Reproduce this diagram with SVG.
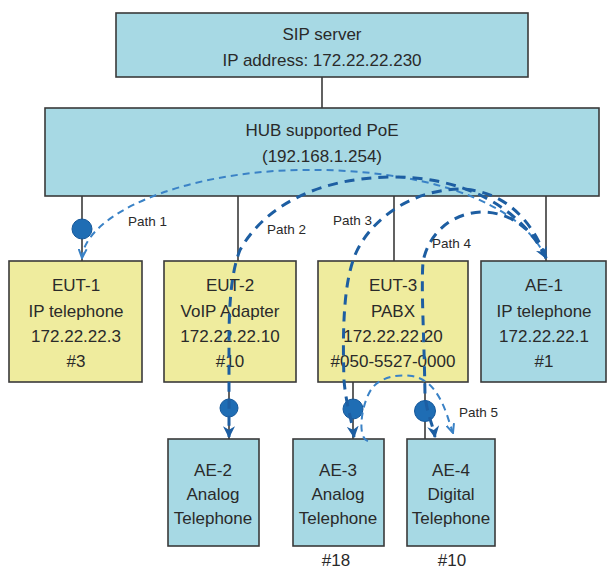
<svg xmlns="http://www.w3.org/2000/svg" width="608" height="572" viewBox="0 0 608 572">
<style>
.box{stroke:#3a3a3a;stroke-width:1.6}
.blue{fill:#a7d9e4}
.yel{fill:#efec9e}
.t{font-family:"Liberation Sans",Arial,sans-serif;font-size:17px;fill:#2a2a2a;text-anchor:middle}
.lab{font-family:"Liberation Sans",Arial,sans-serif;font-size:13.5px;fill:#2a2a2a}
.wire{stroke:#3a3a3a;stroke-width:1.6;fill:none}
.dot{fill:#1f6db4;stroke:#16589a;stroke-width:1}
.pl{fill:none;stroke:#3a82c6;stroke-width:2;stroke-dasharray:7 5}
.pd{fill:none;stroke:#1d5ea2;stroke-width:3;stroke-dasharray:10 7}
</style>
<defs>
<marker id="ad" viewBox="0 0 10 10" refX="9" refY="5" markerWidth="4" markerHeight="4" orient="auto-start-reverse" markerUnits="strokeWidth"><path d="M0,0 L10,5 L0,10 L3,5 Z" fill="#1d5ea2"/></marker>
<marker id="al" viewBox="0 0 10 10" refX="9" refY="5" markerWidth="5" markerHeight="5" orient="auto-start-reverse" markerUnits="strokeWidth"><path d="M0,1 L9,5 L0,9" fill="none" stroke="#3a82c6" stroke-width="2"/></marker>
</defs>

<g id="wires">
<line class="wire" x1="322" y1="77" x2="322" y2="108"/>
<line class="wire" x1="82" y1="196" x2="82" y2="261"/>
<line class="wire" x1="238" y1="196" x2="238" y2="261"/>
<line class="wire" x1="394" y1="196" x2="394" y2="261"/>
<line class="wire" x1="546" y1="196" x2="546" y2="261"/>
<line class="wire" x1="229" y1="382" x2="229" y2="439"/>
<line class="wire" x1="353" y1="382" x2="353" y2="439"/>
<line class="wire" x1="425" y1="382" x2="425" y2="439"/>
</g>

<g id="sip">
<rect class="box blue" x="116" y="13" width="412" height="64"/>
<text class="t" x="322" y="40">SIP server</text>
<text class="t" x="322" y="66">IP address: 172.22.22.230</text>
</g>
<g id="hub">
<rect class="box blue" x="45" y="108" width="554" height="88"/>
<text class="t" x="322" y="136">HUB supported PoE</text>
<text class="t" x="322" y="162">(192.168.1.254)</text>
</g>
<g id="eut1">
<rect class="box yel" x="9" y="261" width="133" height="121"/>
<text class="t" x="76" y="291">EUT-1</text>
<text class="t" x="76" y="317">IP telephone</text>
<text class="t" x="76" y="342">172.22.22.3</text>
<text class="t" x="76" y="367">#3</text>
</g>
<g id="eut2">
<rect class="box yel" x="164" y="261" width="132" height="121"/>
<text class="t" x="230" y="291">EUT-2</text>
<text class="t" x="230" y="317">VoIP Adapter</text>
<text class="t" x="230" y="342">172.22.22.10</text>
<text class="t" x="230" y="367">#10</text>
</g>
<g id="eut3">
<rect class="box yel" x="318" y="261" width="150" height="121"/>
<text class="t" x="393" y="291">EUT-3</text>
<text class="t" x="393" y="317">PABX</text>
<text class="t" x="393" y="342">172.22.22.20</text>
<text class="t" x="393" y="367">#050-5527-0000</text>
</g>
<g id="ae1">
<rect class="box blue" x="481" y="261" width="125" height="121"/>
<text class="t" x="544" y="291">AE-1</text>
<text class="t" x="544" y="317">IP telephone</text>
<text class="t" x="544" y="342">172.22.22.1</text>
<text class="t" x="544" y="367">#1</text>
</g>
<g id="ae2">
<rect class="box blue" x="168" y="439" width="91" height="107"/>
<text class="t" x="213" y="476">AE-2</text>
<text class="t" x="213" y="500">Analog</text>
<text class="t" x="213" y="524">Telephone</text>
</g>
<g id="ae3">
<rect class="box blue" x="293" y="439" width="91" height="107"/>
<text class="t" x="338" y="476">AE-3</text>
<text class="t" x="338" y="500">Analog</text>
<text class="t" x="338" y="524">Telephone</text>
<text class="t" x="336" y="566">#18</text>
</g>
<g id="ae4">
<rect class="box blue" x="407" y="439" width="88" height="107"/>
<text class="t" x="451" y="476">AE-4</text>
<text class="t" x="451" y="500">Digital</text>
<text class="t" x="451" y="524">Telephone</text>
<text class="t" x="452" y="566">#10</text>
</g>

<g id="connectors">
<circle class="dot" cx="82" cy="229" r="10"/>
<circle class="dot" cx="229" cy="408" r="9"/>
<circle class="dot" cx="353" cy="409" r="10"/>
<circle class="dot" cx="425" cy="411" r="10.5"/>
<path class="pl" d="M546 258 C520 200 420 168 300 170 C180 172 85 215 82 258" marker-end="url(#al)"/>
<path class="pd" d="M546 258 C520 205 460 176 390 177 C320 178 265 205 240 250 C232 270 229 300 229 340 L229 437" marker-start="url(#ad)" marker-end="url(#ad)"/>
<path class="pd" d="M546 258 C530 215 500 190 460 189 C410 190 370 220 355 255 C345 280 342 320 344 380 C346 405 352 420 354 437" marker-end="url(#ad)"/>
<path class="pd" d="M546 258 C535 230 510 212 482 212 C450 213 428 235 423 262 C421 290 424 330 425 395 C427 415 433 425 435 437" marker-end="url(#ad)"/>
<path class="pl" d="M368 441 C356 438 362 400 373 387 C382 377 398 374 412 376 C430 379 440 395 447 415 L453 433" marker-end="url(#al)"/>
<text class="lab" x="128" y="226">Path 1</text>
<text class="lab" x="267" y="234">Path 2</text>
<text class="lab" x="333" y="225">Path 3</text>
<text class="lab" x="432" y="248">Path 4</text>
<text class="lab" x="459" y="417">Path 5</text>
</g>
</svg>
